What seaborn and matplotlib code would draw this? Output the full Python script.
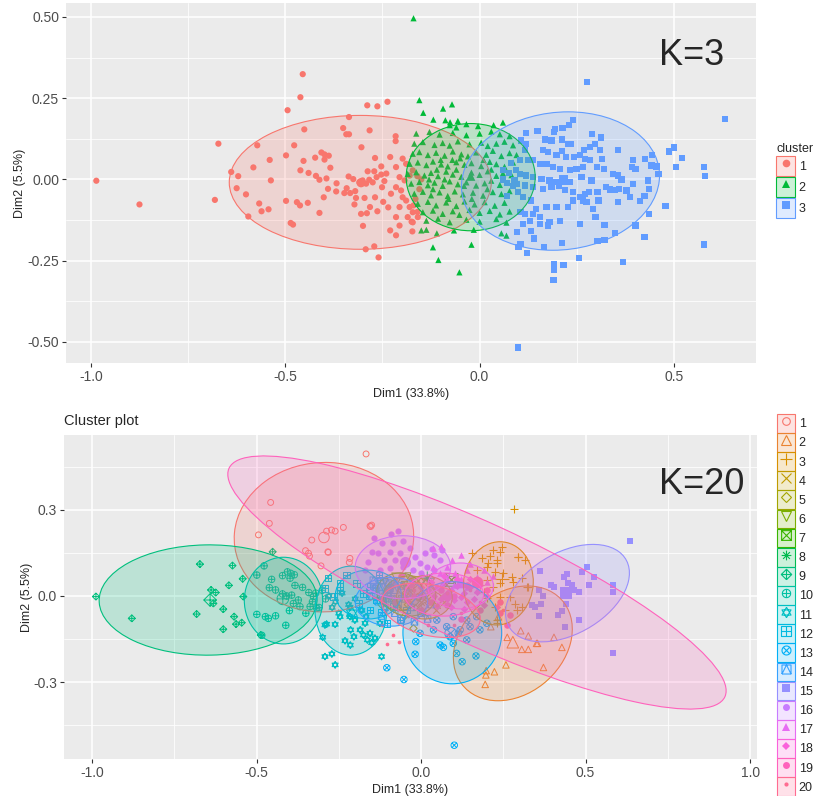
import numpy as np
import pandas as pd
import matplotlib
matplotlib.use("Agg")
import matplotlib.pyplot as plt
import seaborn as sns
from matplotlib.patches import Ellipse, Patch
from matplotlib.lines import Line2D
from matplotlib.path import Path
from matplotlib.transforms import Affine2D
from matplotlib.ticker import FixedLocator
from matplotlib.colors import to_rgba

# ---------------- K = 3 data (Dim1, Dim2) ----------------
top_c1 = [(-0.986, -0.004), (-0.875, -0.077), (-0.681, -0.063), (-0.672, 0.110), (-0.455, 0.324), (-0.461, 0.253),
          (-0.494, 0.213), (-0.289, 0.228), (-0.263, 0.225), (-0.237, 0.239), (-0.336, 0.192), (-0.451, 0.154),
          (-0.351, 0.158), (-0.343, 0.139), (-0.336, 0.139), (-0.283, 0.151), (-0.216, 0.133), (-0.216, 0.118),
          (-0.304, 0.099), (-0.572, 0.105), (-0.477, 0.105), (-0.498, 0.074), (-0.540, 0.060), (-0.582, 0.037),
          (-0.639, 0.023), (-0.621, 0.010), (-0.625, -0.027), (-0.601, -0.046), (-0.595, -0.114), (-0.567, -0.074),
          (-0.561, -0.098), (-0.543, -0.092), (-0.537, -0.003), (-0.498, -0.066), (-0.486, -0.134), (-0.480, -0.139),
          (-0.470, -0.070), (-0.462, -0.080), (-0.442, -0.072), (-0.461, 0.028), (-0.453, 0.057), (-0.440, 0.020),
          (-0.423, 0.067), (-0.407, 0.083), (-0.399, 0.077), (-0.388, 0.073), (-0.399, 0.061), (-0.384, 0.036),
          (-0.421, 0.011), (-0.412, -0.001), (-0.394, 0.003), (-0.390, -0.029), (-0.401, -0.055), (-0.412, -0.103),
          (-0.368, -0.012), (-0.369, -0.037), (-0.337, 0.009), (-0.325, 0.001), (-0.309, -0.009), (-0.301, -0.003),
          (-0.292, -0.013), (-0.284, -0.001), (-0.275, -0.009), (-0.265, 0.007), (-0.253, 0.015), (-0.245, -0.005),
          (-0.251, -0.024), (-0.271, 0.025), (-0.288, 0.025), (-0.320, -0.036), (-0.333, -0.042), (-0.318, -0.057),
          (-0.322, -0.077), (-0.296, -0.057), (-0.269, -0.055), (-0.248, -0.069), (-0.282, -0.085), (-0.305, -0.106),
          (-0.290, -0.104), (-0.263, -0.098), (-0.300, -0.143), (-0.293, -0.215), (-0.271, -0.206), (-0.260, -0.240),
          (-0.230, -0.157), (-0.215, -0.172), (-0.206, -0.142), (-0.215, -0.116), (-0.235, -0.086), (-0.228, -0.044),
          (-0.215, -0.024), (-0.202, -0.034), (-0.198, -0.055), (-0.189, -0.065), (-0.206, -0.085), (-0.180, -0.085),
          (-0.172, -0.101), (-0.185, -0.116), (-0.172, -0.132), (-0.173, -0.160), (-0.159, -0.116), (-0.230, 0.069),
          (-0.253, 0.040), (-0.240, 0.018), (-0.215, 0.038), (-0.198, 0.064), (-0.189, 0.048), (-0.206, 0.007),
          (-0.193, -0.003), (-0.180, 0.012), (-0.172, 0.028), (-0.269, 0.066), (-0.342, -0.027), (-0.348, -0.042),
          (-0.160, 0.010), (-0.155, -0.030), (-0.165, -0.060), (-0.150, 0.000), (-0.160, -0.100), (-0.175, -0.130),
          (-0.170, -0.080)]

top_c2 = [(-0.170, 0.496), (-0.155, 0.244), (-0.145, 0.205), (-0.119, 0.184), (-0.094, 0.218), (-0.071, 0.231),
          (-0.088, 0.182), (-0.076, 0.176), (-0.056, 0.180), (-0.021, -0.201), (-0.120, -0.209), (-0.106, -0.248),
          (-0.052, -0.286), (0.060, 0.175), (0.036, 0.167), (0.069, -0.173), (0.056, -0.166), (-0.150, -0.157),
          (-0.137, -0.155), (-0.110, -0.166), (-0.066, -0.157), (-0.015, -0.155),
          (-0.163, 0.141), (-0.129, 0.146), (-0.103, 0.138), (-0.069, 0.143), (-0.034, 0.136), (0.000, 0.141),
          (0.030, 0.147), (0.052, 0.139), (0.077, 0.133),
          (-0.168, 0.110), (-0.146, 0.115), (-0.116, 0.106), (-0.095, 0.112), (-0.077, 0.104), (-0.056, 0.117),
          (-0.026, 0.108), (0.004, 0.113), (0.021, 0.103), (0.043, 0.110), (0.064, 0.116), (0.086, 0.105),
          (-0.172, 0.079), (-0.155, 0.084), (-0.133, 0.075), (-0.112, 0.082), (-0.090, 0.073), (-0.069, 0.086),
          (-0.047, 0.077), (-0.030, 0.071), (-0.009, 0.083), (0.017, 0.076), (0.034, 0.088), (0.056, 0.072),
          (0.077, 0.081), (0.095, 0.075),
          (-0.180, 0.048), (-0.159, 0.052), (-0.137, 0.044), (-0.120, 0.055), (-0.099, 0.046), (-0.082, 0.040),
          (-0.060, 0.053), (-0.039, 0.045), (-0.021, 0.050), (0.004, 0.041), (0.026, 0.054), (0.043, 0.047),
          (0.064, 0.039), (0.086, 0.052),
          (-0.185, 0.017), (-0.163, 0.022), (-0.142, 0.012), (-0.125, 0.020), (-0.107, 0.010), (-0.086, 0.024),
          (-0.069, 0.015), (-0.047, 0.008), (-0.021, 0.021), (0.000, 0.014), (0.021, 0.025), (0.043, 0.011),
          (0.060, 0.019), (0.082, 0.013),
          (-0.176, -0.013), (-0.155, -0.008), (-0.133, -0.018), (-0.116, -0.010), (-0.095, -0.020), (-0.077, -0.006),
          (-0.056, -0.015), (-0.034, -0.009), (-0.009, -0.019), (0.013, -0.012), (0.030, -0.004), (0.052, -0.017),
          (0.073, -0.010),
          (-0.168, -0.044), (-0.146, -0.038), (-0.125, -0.049), (-0.103, -0.040), (-0.082, -0.051), (-0.064, -0.037),
          (-0.043, -0.046), (-0.017, -0.041), (0.009, -0.050), (0.034, -0.039), (0.056, -0.045), (0.077, -0.036),
          (-0.159, -0.075), (-0.133, -0.069), (-0.112, -0.080), (-0.086, -0.071), (-0.060, -0.082), (-0.039, -0.068),
          (-0.013, -0.077), (0.013, -0.070), (0.039, -0.081), (0.064, -0.072),
          (-0.146, -0.101), (-0.120, -0.096), (-0.095, -0.106), (-0.069, -0.098), (-0.052, -0.109), (-0.026, -0.094),
          (0.000, -0.103), (0.026, -0.097), (0.052, -0.108), (0.077, -0.099),
          (-0.137, -0.127), (-0.107, -0.121), (-0.077, -0.132), (-0.034, -0.124), (0.000, -0.130), (0.043, -0.122),
          (0.069, -0.133), (-0.077, 0.167), (-0.060, 0.160), (-0.034, 0.170), (-0.004, 0.164),
          (-0.110, 0.030), (-0.090, 0.000), (-0.060, 0.030), (-0.040, -0.020), (-0.120, -0.030), (-0.070, 0.060),
          (-0.100, 0.060), (-0.050, 0.065), (-0.130, 0.000), (-0.020, -0.060), (0.010, 0.060), (0.020, -0.030),
          (-0.080, -0.060), (0.030, 0.030)]

top_c3 = [(0.277, 0.301), (0.631, 0.187), (0.099, -0.517), (0.578, -0.200), (0.577, 0.038), (0.579, 0.010),
          (0.487, 0.086), (0.500, 0.098), (0.521, 0.065), (0.506, 0.038), (0.478, -0.083), (0.424, -0.178),
          (0.401, -0.142), (0.368, -0.253), (0.255, -0.241), (0.216, -0.263), (0.192, -0.260), (0.192, -0.278),
          (0.190, -0.309), (0.121, -0.227), (0.100, -0.209), (0.105, -0.199), (0.139, -0.182), (0.165, -0.207),
          (0.211, -0.196), (0.259, -0.137), (0.298, -0.116), (0.321, -0.141), (0.303, -0.189), (0.321, -0.186),
          (0.348, -0.166), (0.436, -0.106), (0.424, -0.052), (0.436, -0.029), (0.434, -0.003), (0.426, 0.064),
          (0.444, 0.074), (0.442, 0.043), (0.455, 0.040), (0.460, 0.017), (0.393, 0.038), (0.401, 0.033),
          (0.413, -0.067), (0.356, 0.090), (0.356, -0.070), (0.344, 0.017), (0.356, 0.012), (0.365, 0.000),
          (0.335, -0.031), (0.348, -0.032), (0.359, -0.029), (0.309, 0.090), (0.312, 0.129), (0.290, 0.139),
          (0.314, 0.064), (0.301, 0.038), (0.320, 0.032), (0.303, -0.039), (0.306, -0.065), (0.281, -0.039),
          (0.275, -0.070), (0.241, 0.182), (0.229, 0.167), (0.213, 0.159), (0.193, 0.156), (0.191, 0.146),
          (0.149, 0.149), (0.120, 0.143), (0.169, 0.123), (0.185, 0.120), (0.211, 0.123), (0.228, 0.108),
          (0.235, 0.108), (0.268, 0.090), (0.284, 0.100), (0.296, 0.110), (0.163, 0.090), (0.175, 0.084),
          (0.198, 0.074), (0.212, 0.087), (0.223, 0.069), (0.242, 0.069), (0.258, 0.076), (0.271, 0.064),
          (0.284, 0.059), (0.125, 0.059), (0.137, 0.059), (0.155, 0.048), (0.172, 0.048), (0.189, 0.038),
          (0.206, 0.033), (0.232, 0.028), (0.249, 0.033), (0.266, 0.038), (0.103, 0.017), (0.120, 0.012),
          (0.137, 0.007), (0.159, 0.002), (0.180, -0.003), (0.198, -0.008), (0.215, 0.002), (0.232, -0.008),
          (0.262, 0.007), (0.288, -0.003), (0.095, -0.013), (0.116, -0.019), (0.137, -0.024), (0.163, -0.029),
          (0.185, -0.024), (0.205, -0.019), (0.219, -0.032), (0.241, -0.039), (0.258, -0.054), (0.271, -0.044),
          (0.112, -0.055), (0.133, -0.065), (0.146, -0.091), (0.137, -0.106), (0.155, -0.116), (0.172, -0.085),
          (0.198, -0.085), (0.228, -0.085), (0.241, -0.065), (0.266, -0.065), (0.292, -0.091), (0.116, -0.106),
          (0.129, -0.127), (0.155, -0.137), (0.180, -0.132), (0.206, -0.127), (0.176, -0.142), (0.112, -0.137),
          (0.133, -0.158), (0.096, -0.163), (0.105, -0.101), (0.116, 0.090), (0.103, 0.059), (0.120, 0.110),
          (0.106, 0.120), (0.094, 0.028), (0.090, -0.003), (0.099, -0.039), (0.395, -0.013), (0.378, -0.034),
          (0.387, -0.055), (0.326, -0.024), (0.395, 0.059), (0.060, 0.030), (0.070, -0.010), (0.080, 0.050),
          (0.070, -0.050), (0.060, 0.000), (0.085, -0.020), (0.075, 0.020)]

top_centers = [(-0.305, -0.010), (-0.023, 0.010), (0.215, -0.002)]
# ellipse per cluster: centre x, centre y, half-axis u (x, y), half-axis v (x, y)
top_ellipses = [(-0.307, -0.009, 0.337, 0.0, 0.0, 0.206),
                (-0.023, 0.007, 0.166, 0.0, 0.0, 0.165),
                (0.208, -0.005, 0.254, 0.0, 0.02, 0.213)]

# ---------------- K = 20 data (Dim1, Dim2) ----------------
bot_c01 = [(-0.167, 0.495), (-0.457, 0.326), (-0.461, 0.253), (-0.494, 0.213), (-0.332, 0.195), (-0.287, 0.226),
           (-0.261, 0.226), (-0.236, 0.239), (-0.153, 0.242), (-0.150, 0.247), (-0.282, 0.152), (-0.351, 0.158),
           (-0.339, 0.139), (-0.216, 0.131), (-0.218, 0.117), (-0.304, 0.105), (-0.342, 0.149), (-0.283, 0.154),
           (-0.272, 0.230), (-0.155, 0.244)]
bot_c02 = [(0.262, -0.144), (0.306, -0.186), (0.326, -0.186), (0.351, -0.165), (0.372, -0.249), (0.404, -0.144),
           (0.428, -0.179), (0.258, -0.240), (0.198, -0.260), (0.223, -0.264), (0.197, -0.275), (0.195, -0.308),
           (0.303, -0.121), (0.326, -0.139), (0.235, -0.072), (0.212, -0.107), (0.354, -0.165)]
bot_c03 = [(0.283, 0.303), (0.296, 0.135), (0.316, 0.125), (0.245, 0.170), (0.220, 0.160), (0.210, 0.139),
           (0.230, 0.114), (0.200, 0.102), (0.225, 0.085), (0.250, 0.079), (0.276, 0.067), (0.281, 0.050),
           (0.306, 0.062), (0.321, 0.033), (0.240, 0.044), (0.220, 0.033), (0.190, 0.015), (0.200, -0.008),
           (0.240, -0.002), (0.271, -0.002), (0.286, -0.028), (0.225, -0.037), (0.255, -0.049), (0.291, -0.049),
           (0.230, -0.095), (0.306, -0.037), (0.154, 0.149), (0.184, 0.131), (0.205, 0.114), (0.169, 0.091),
           (0.230, 0.125), (0.240, 0.154), (0.296, 0.137), (0.326, 0.033), (0.179, 0.038), (0.200, 0.056),
           (0.230, -0.084)]
bot_c04 = [(-0.040, 0.030), (-0.020, 0.000), (0.000, 0.020), (0.020, -0.010), (0.040, 0.020), (0.050, -0.030),
           (-0.010, -0.040), (0.010, -0.060), (0.030, 0.040), (-0.030, -0.020), (0.060, 0.000), (0.000, -0.020),
           (-0.050, 0.000), (0.020, 0.030), (0.045, -0.050), (0.070, -0.020), (-0.015, 0.045), (0.010, 0.000)]
bot_c05 = [(-0.080, -0.010), (-0.060, 0.020), (-0.040, -0.030), (-0.020, 0.040), (0.000, 0.050), (-0.100, 0.020),
           (-0.070, -0.040), (0.010, -0.035), (-0.030, 0.010), (-0.120, -0.030), (0.030, 0.060), (-0.050, -0.070),
           (-0.023, -0.113), (-0.010, -0.005)]
bot_c06 = [(-0.090, 0.030), (-0.050, 0.040), (-0.100, 0.000), (-0.060, -0.010), (-0.080, -0.030), (-0.030, 0.020),
           (-0.110, 0.050), (-0.040, 0.070)]
bot_c07 = [(0.093, 0.056)]
bot_c08 = [(0.019, 0.062)]
bot_c09 = [(-0.988, -0.002), (-0.879, -0.078), (-0.672, 0.111), (-0.573, 0.106), (-0.584, 0.037), (-0.638, 0.021),
           (-0.624, 0.012), (-0.631, -0.026), (-0.682, -0.063), (-0.601, -0.046), (-0.568, -0.072), (-0.562, -0.098),
           (-0.545, -0.093), (-0.601, -0.116), (-0.540, -0.002), (-0.542, 0.060), (-0.487, -0.136), (-0.451, 0.154)]
bot_c10 = [(-0.499, 0.073), (-0.477, 0.105), (-0.454, 0.058), (-0.421, 0.071), (-0.406, 0.084), (-0.396, 0.079),
           (-0.385, 0.074), (-0.398, 0.062), (-0.461, 0.029), (-0.442, 0.021), (-0.421, 0.007), (-0.408, 0.000),
           (-0.393, 0.003), (-0.383, 0.037), (-0.373, -0.014), (-0.388, -0.026), (-0.400, -0.051), (-0.499, -0.064),
           (-0.473, -0.072), (-0.464, -0.078), (-0.442, -0.069), (-0.411, -0.102), (-0.368, -0.037), (-0.341, 0.012),
           (-0.337, -0.037), (-0.327, -0.002), (-0.317, -0.043), (-0.484, -0.137), (-0.330, -0.020), (-0.310, -0.040),
           (-0.290, -0.010), (-0.320, 0.010), (-0.300, 0.020), (-0.350, -0.060), (-0.360, 0.030)]
bot_c11 = [(-0.292, -0.211), (-0.271, -0.202), (-0.261, -0.240), (-0.299, -0.144), (-0.287, -0.098), (-0.261, -0.099),
           (-0.246, -0.072), (-0.231, -0.156), (-0.214, -0.118), (-0.215, -0.171), (-0.204, -0.142), (-0.185, -0.118),
           (-0.175, -0.136), (-0.163, -0.153), (-0.155, -0.130), (-0.150, -0.163), (-0.140, -0.147), (-0.170, -0.095),
           (-0.201, -0.084), (-0.292, -0.101), (-0.120, -0.211), (-0.216, -0.072), (-0.125, -0.095), (-0.167, -0.072),
           (-0.216, -0.039), (-0.182, -0.049), (-0.280, 0.000), (-0.260, -0.020), (-0.240, 0.010), (-0.220, -0.030),
           (-0.200, -0.010), (-0.180, -0.050), (-0.250, -0.060), (-0.270, -0.040)]
bot_c12 = [(-0.226, 0.073), (-0.292, 0.027), (-0.266, -0.002), (-0.246, 0.021), (-0.196, 0.044), (-0.175, 0.009),
           (-0.155, 0.033), (-0.135, -0.014), (-0.125, 0.056), (-0.104, 0.009), (-0.084, -0.037), (-0.120, -0.055),
           (-0.044, -0.049), (-0.064, -0.084), (-0.104, -0.095), (-0.155, -0.049), (-0.190, -0.026), (-0.282, 0.062),
           (-0.246, 0.044), (-0.127, 0.073), (-0.140, 0.027)]
bot_c13 = [(-0.052, -0.291), (0.101, -0.520), (-0.018, -0.203), (-0.016, -0.159), (0.058, -0.171), (0.068, -0.179),
           (0.098, -0.165), (0.108, -0.200), (0.125, -0.229), (0.167, -0.209), (-0.003, -0.130), (0.038, -0.118),
           (0.078, -0.107), (0.119, -0.118), (0.149, -0.107), (0.179, -0.118), (0.139, -0.153), (0.088, -0.142),
           (0.048, -0.084), (0.098, -0.072), (0.139, -0.084), (0.169, -0.072), (-0.104, -0.250), (0.200, -0.095),
           (0.113, -0.130)]
bot_c14 = [(-0.145, 0.055), (-0.120, 0.030), (-0.100, 0.045), (-0.080, 0.020), (-0.060, 0.035), (-0.130, -0.020),
           (-0.110, -0.040), (-0.090, -0.010), (-0.070, -0.030), (-0.050, -0.010), (-0.030, -0.040), (-0.150, 0.000),
           (-0.120, -0.070), (-0.080, -0.060), (-0.040, 0.010), (0.000, -0.060), (0.020, -0.080), (-0.020, -0.090),
           (0.030, -0.030), (-0.060, -0.080), (-0.100, 0.010), (-0.140, 0.030), (-0.115, -0.015), (-0.095, 0.025)]
bot_c15 = [(0.635, 0.192), (0.583, -0.197), (0.504, 0.100), (0.490, 0.085), (0.525, 0.067), (0.510, 0.039),
           (0.583, 0.039), (0.583, 0.013), (0.480, -0.084), (0.438, -0.107), (0.427, -0.052), (0.415, -0.066),
           (0.441, -0.029), (0.445, 0.077), (0.433, 0.067), (0.448, 0.044), (0.458, 0.039), (0.466, 0.021),
           (0.480, 0.015), (0.395, 0.038), (0.404, 0.033), (0.362, 0.088), (0.360, -0.069), (0.365, -0.028),
           (0.337, -0.031), (0.347, -0.037), (0.358, 0.021), (0.370, 0.001), (0.436, 0.015), (0.446, 0.000)]
bot_c16 = [(-0.092, 0.216), (-0.070, 0.228), (-0.143, 0.201), (-0.118, 0.184), (-0.084, 0.186), (-0.054, 0.193),
           (-0.033, 0.166), (-0.064, 0.149), (-0.094, 0.154), (-0.130, 0.149), (-0.150, 0.154), (-0.114, 0.125),
           (-0.079, 0.125), (-0.044, 0.120), (-0.018, 0.135), (0.012, 0.151), (0.032, 0.163), (0.038, 0.143),
           (0.063, 0.160), (0.058, 0.125), (-0.054, 0.102), (-0.094, 0.096), (-0.125, 0.091), (-0.003, 0.114),
           (0.017, 0.102), (-0.023, 0.091), (-0.059, 0.073), (-0.160, 0.120), (-0.170, 0.090), (-0.030, 0.060),
           (-0.080, 0.050), (0.000, 0.080), (0.040, 0.090)]
bot_c17 = [(0.122, 0.143), (0.095, 0.125), (0.078, 0.102), (0.058, 0.079), (0.103, 0.079), (0.139, 0.091),
           (0.169, 0.067), (0.037, 0.102), (0.150, 0.110), (0.120, 0.060), (0.080, 0.060), (0.190, 0.090),
           (0.200, 0.050), (0.060, 0.040), (0.140, 0.030), (0.100, 0.040), (0.170, 0.020), (0.220, 0.070),
           (0.060, 0.175), (0.036, 0.167)]
bot_c18 = [(0.030, 0.050), (0.050, 0.030), (0.070, 0.045), (0.090, 0.020), (0.110, 0.035), (0.130, 0.010),
           (0.150, 0.030), (0.170, 0.015), (0.040, 0.000), (0.060, -0.010), (0.080, 0.005), (0.100, -0.015),
           (0.120, -0.005), (0.140, -0.020), (0.160, -0.010), (0.050, -0.035), (0.090, -0.040), (0.130, -0.045),
           (0.180, 0.040), (0.200, 0.000), (0.020, 0.020), (0.110, 0.060), (0.070, 0.070), (0.150, 0.060),
           (0.190, -0.030), (0.230, -0.040), (0.000, 0.030), (-0.020, 0.000)]
bot_c19 = [(-0.044, -0.014), (0.000, 0.000), (-0.080, -0.020), (0.030, -0.020), (0.060, 0.020), (0.100, 0.000),
           (0.140, 0.040), (0.200, 0.020), (-0.120, -0.010), (0.240, -0.020), (-0.030, 0.040), (0.080, -0.030),
           (0.180, -0.050), (0.260, -0.100), (0.120, -0.080), (-0.060, 0.070), (0.240, -0.060), (0.271, -0.066)]
bot_c20 = [(-0.104, -0.167), (-0.084, -0.136), (-0.067, -0.161), (0.000, -0.050), (0.050, -0.030), (0.120, -0.060),
           (0.150, 0.020), (0.250, -0.050), (-0.020, 0.020), (0.080, 0.010), (0.020, -0.100), (-0.040, -0.070),
           (0.100, -0.100), (0.180, -0.020), (-0.120, -0.100)]

bot_points = [bot_c01, bot_c02, bot_c03, bot_c04, bot_c05, bot_c06, bot_c07, bot_c08, bot_c09, bot_c10,
              bot_c11, bot_c12, bot_c13, bot_c14, bot_c15, bot_c16, bot_c17, bot_c18, bot_c19, bot_c20]

bot_centers = [(-0.295, 0.204), (0.279, -0.161), (0.245, 0.060), (0.010, -0.010), (-0.040, 0.000),
               (-0.072, 0.061), (0.093, 0.056), (0.019, 0.062), (-0.641, -0.014), (-0.420, -0.010),
               (-0.210, -0.060), (-0.150, 0.010), (0.090, -0.130), (-0.109, 0.000), (0.441, 0.009),
               (-0.050, 0.120), (0.120, 0.050), (0.080, 0.000), (0.169, 0.048), (0.000, -0.050)]

bot_ellipses = [(-0.295, 0.205, 0.272, -0.015, 0.02, 0.26),
                (0.279, -0.165, 0.175, 0.0, 0.045, 0.20),
                (0.235, 0.044, 0.106, 0.0, 0.005, 0.145),
                (0.010, -0.005, 0.085, 0.0, 0.0, 0.075),
                (-0.035, 0.000, 0.080, 0.0, 0.0, 0.070),
                (-0.065, 0.015, 0.070, 0.0, 0.0, 0.065),
                None,
                None,
                (-0.647, -0.014, 0.331, 0.008, -0.01, 0.192),
                (-0.418, -0.016, 0.119, 0.0, 0.0, 0.151),
                (-0.213, -0.051, 0.109, 0.0, 0.0, 0.155),
                (-0.160, 0.005, 0.100, 0.0, 0.0, 0.085),
                (0.095, -0.128, 0.150, 0.0, 0.0, 0.178),
                (-0.090, -0.020, 0.110, 0.0, 0.0, 0.085),
                (0.445, 0.010, 0.185, 0.04, 0.035, 0.165),
                (-0.055, 0.100, 0.145, 0.0, 0.0, 0.110),
                (0.120, 0.035, 0.100, 0.0, 0.0, 0.080),
                (0.070, 0.005, 0.120, 0.0, 0.0, 0.075),
                (0.170, 0.047, 0.7535, -0.398, 0.075, 0.19),
                (0.030, -0.050, 0.150, -0.03, 0.0, 0.090)]

labels3 = ["1", "2", "3"]
labels20 = [str(i) for i in range(1, 21)]

top_xticks = [-1.0, -0.5, 0.0, 0.5]
top_xticklabels = ["-1.0", "-0.5", "0.0", "0.5"]
top_yticks = [-0.5, -0.25, 0.0, 0.25, 0.5]
top_yticklabels = ["-0.50", "-0.25", "0.00", "0.25", "0.50"]
bot_xticks = [-1.0, -0.5, 0.0, 0.5, 1.0]
bot_xticklabels = ["-1.0", "-0.5", "0.0", "0.5", "1.0"]
bot_yticks = [-0.3, 0.0, 0.3]
bot_yticklabels = ["-0.3", "0.0", "0.3"]

# ---------------- styles ----------------
colors3 = ["#F8766D", "#00BA38", "#619CFF"]
colors20 = ["#F8766D", "#EA8331", "#D89000", "#C09B00", "#A3A500", "#7CAE00", "#39B600", "#00BB4E",
            "#00BF7D", "#00C1A3", "#00BFC4", "#00BAE0", "#00B0F6", "#35A2FF", "#9590FF", "#C77CFF",
            "#E76BF3", "#FA62DB", "#FF62BC", "#FF6C91"]


def shape(*lines):
    verts, codes = [], []
    for ln in lines:
        verts += list(ln)
        codes += [Path.MOVETO] + [Path.LINETO] * (len(ln) - 1)
    return Path(verts, codes)


t = np.linspace(0, 2 * np.pi, 25)
ring = list(zip(np.cos(t), np.sin(t)))
sq = [(-1, -1), (1, -1), (1, 1), (-1, 1), (-1, -1)]
dia = [(0, -1.3), (1.3, 0), (0, 1.3), (-1.3, 0), (0, -1.3)]
hb, vb = [(-1, 0), (1, 0)], [(0, -1), (0, 1)]
d1, d2 = [(-1, -1), (1, 1)], [(-1, 1), (1, -1)]
c1, c2 = [(-0.7, -0.7), (0.7, 0.7)], [(-0.7, 0.7), (0.7, -0.7)]
tri_up = [(0, 1), (0.87, -0.5), (-0.87, -0.5), (0, 1)]
tri_dn = [(0, -1), (0.87, 0.5), (-0.87, 0.5), (0, -1)]

markers20 = ["o", "^", "+", "x", "D", "v",
             shape(sq, d1, d2), shape(hb, vb, c1, c2), shape(dia, [(-1.3, 0), (1.3, 0)], [(0, -1.3), (0, 1.3)]),
             shape(ring, hb, vb), shape(tri_up, tri_dn), shape(sq, hb, vb), shape(ring, c1, c2),
             shape(sq, [(-1, -1), (0, 1), (1, -1)]),
             "s", "o", "^", "D", "o", "o"]
kind20 = ["open", "open", "line", "line", "open", "open", "open", "open", "open", "open", "open", "open",
          "open", "open", "solid", "solid", "solid", "solid", "solid", "solid"]
size20 = [18, 22, 30, 22, 14, 20, 26, 30, 26, 22, 26, 22, 22, 22, 20, 20, 22, 14, 22, 7]

sns.set_theme(style="darkgrid", rc={"axes.facecolor": "#EBEBEB", "grid.color": "white",
                                    "figure.facecolor": "white"})
plt.rcParams["font.family"] = ["Liberation Sans", "DejaVu Sans"]

W, H = 813, 796
fig = plt.figure(figsize=(W / 100, H / 100), dpi=100)


def box(l, t_, r, b):
    return [l / W, 1 - b / H, (r - l) / W, (b - t_) / H]


ax1 = fig.add_axes(box(66, 3, 756, 363))
ax2 = fig.add_axes(box(64, 435, 757, 759))


def add_ellipse(ax, e, color):
    cx, cy, ux, uy, vx, vy = e
    tr = Affine2D(np.array([[ux, vx, cx], [uy, vy, cy], [0, 0, 1]])) + ax.transData
    ax.add_patch(Ellipse((0, 0), 2, 2, transform=tr, facecolor=to_rgba(color, 0.2),
                         edgecolor=color, lw=0.8, zorder=3))


# ---------------- top panel: K=3 ----------------
rows = [(x, y, lab) for pts, lab in zip([top_c1, top_c2, top_c3], labels3) for x, y in pts]
df_top = pd.DataFrame(rows, columns=["Dim1", "Dim2", "cluster"])
pal3 = dict(zip(labels3, colors3))
mk3 = dict(zip(labels3, ["o", "^", "s"]))
sns.scatterplot(data=df_top, x="Dim1", y="Dim2", hue="cluster", style="cluster", palette=pal3,
                markers=mk3, s=20, linewidth=0, legend=False, ax=ax1, zorder=2)
df_cen = pd.DataFrame([(x, y, lab) for (x, y), lab in zip(top_centers, labels3)],
                      columns=["Dim1", "Dim2", "cluster"])
sns.scatterplot(data=df_cen, x="Dim1", y="Dim2", hue="cluster", style="cluster", palette=pal3,
                markers=mk3, s=45, linewidth=0, legend=False, ax=ax1, zorder=2)
for e, c in zip(top_ellipses, colors3):
    add_ellipse(ax1, e, c)

# ---------------- bottom panel: K=20 ----------------
for i in range(20):
    c, m, kind = colors20[i], markers20[i], kind20[i]
    d = pd.DataFrame(bot_points[i], columns=["Dim1", "Dim2"])
    dc = pd.DataFrame([bot_centers[i]], columns=["Dim1", "Dim2"])
    for frame, s in [(d, size20[i]), (dc, size20[i] * 3.2)]:
        if kind == "line":
            sns.scatterplot(data=frame, x="Dim1", y="Dim2", marker=m, color=c, s=s,
                            linewidth=0.8, legend=False, ax=ax2, zorder=2)
        elif kind == "open":
            sns.scatterplot(data=frame, x="Dim1", y="Dim2", marker=m, color=c, facecolors="none",
                            edgecolor=c, s=s, linewidth=0.7, legend=False, ax=ax2, zorder=2)
        else:
            sns.scatterplot(data=frame, x="Dim1", y="Dim2", marker=m, color=c, edgecolor=c,
                            s=s, linewidth=0, legend=False, ax=ax2, zorder=2)
for e, c in zip(bot_ellipses, colors20):
    if e is not None:
        add_ellipse(ax2, e, c)


def style_axes(ax, xlim, ylim, xt, xtl, yt, ytl, xminor, yminor, ypad):
    ax.set_xlim(xlim)
    ax.set_ylim(ylim)
    ax.set_xticks(xt, xtl)
    ax.set_yticks(yt, ytl)
    ax.xaxis.set_minor_locator(FixedLocator(xminor))
    ax.yaxis.set_minor_locator(FixedLocator(yminor))
    ax.grid(which="major", color="white", lw=1.1)
    ax.grid(which="minor", color="white", lw=0.55)
    ax.tick_params(which="major", bottom=True, left=True, length=3, width=0.8, color="#333333",
                   labelcolor="#4D4D4D", labelsize=10, pad=2)
    ax.tick_params(which="minor", length=0)
    for sp in ax.spines.values():
        sp.set_visible(False)
    ax.set_axisbelow(True)
    ax.set_xlabel("Dim1 (33.8%)", fontsize=9, labelpad=3)
    ax.set_ylabel("Dim2 (5.5%)", fontsize=9, labelpad=ypad)


style_axes(ax1, (-1.064, 0.711), (-0.565, 0.543), top_xticks, top_xticklabels, top_yticks, top_yticklabels,
           [-0.75, -0.25, 0.25], [-0.375, -0.125, 0.125, 0.375], 1)
style_axes(ax2, (-1.085, 1.021), (-0.568, 0.561), bot_xticks, bot_xticklabels, bot_yticks, bot_yticklabels,
           [-0.75, -0.25, 0.25, 0.75], [-0.45, -0.15, 0.15, 0.45], 0)

fig.text(659 / W, 1 - 65 / H, "K=3", fontsize=26, ha="left", va="baseline")
fig.text(659 / W, 1 - 494 / H, "K=20", fontsize=26, ha="left", va="baseline")
fig.text(64 / W, 1 - 425 / H, "Cluster plot", fontsize=10.5, ha="left", va="baseline")


def key(c, m, kind, ms):
    patch = Patch(facecolor=to_rgba(c, 0.2), edgecolor=c, lw=0.8)
    if kind == "solid":
        mark = Line2D([], [], ls="", marker=m, ms=ms, mfc=c, mec=c, mew=0)
    elif kind == "line":
        mark = Line2D([], [], ls="", marker=m, ms=ms + 2, color=c, mew=0.8)
    else:
        mark = Line2D([], [], ls="", marker=m, ms=ms + 1, mfc="none", mec=c, mew=0.8)
    return (patch, mark)


h3 = [key(c, m, "solid", 5.5) for c, m in zip(colors3, ["o", "^", "s"])]
fig.legend(h3, labels3, title="cluster", loc="upper left", bbox_to_anchor=(776 / W, 1 - 143 / H),
           frameon=False, borderpad=0, borderaxespad=0, fontsize=9, title_fontsize=9,
           handlelength=1.52, handleheight=2.08, handletextpad=0.3, labelspacing=0.08,
           alignment="left")

ms20 = [4.5, 6, 6, 5, 4.5, 5.5, 6, 6, 6.5, 5, 6.5, 5.5, 5.5, 5.5, 5.5, 5, 6, 4.5, 5, 3]
h20 = [key(colors20[i], markers20[i], kind20[i], ms20[i]) for i in range(20)]
fig.legend(h20, labels20, loc="upper left", bbox_to_anchor=(777 / W, 1 - 414 / H),
           frameon=False, borderpad=0, borderaxespad=0, fontsize=9,
           handlelength=1.44, handleheight=1.93, handletextpad=0.3, labelspacing=0.03)

fig.savefig("out.png", dpi=100)
